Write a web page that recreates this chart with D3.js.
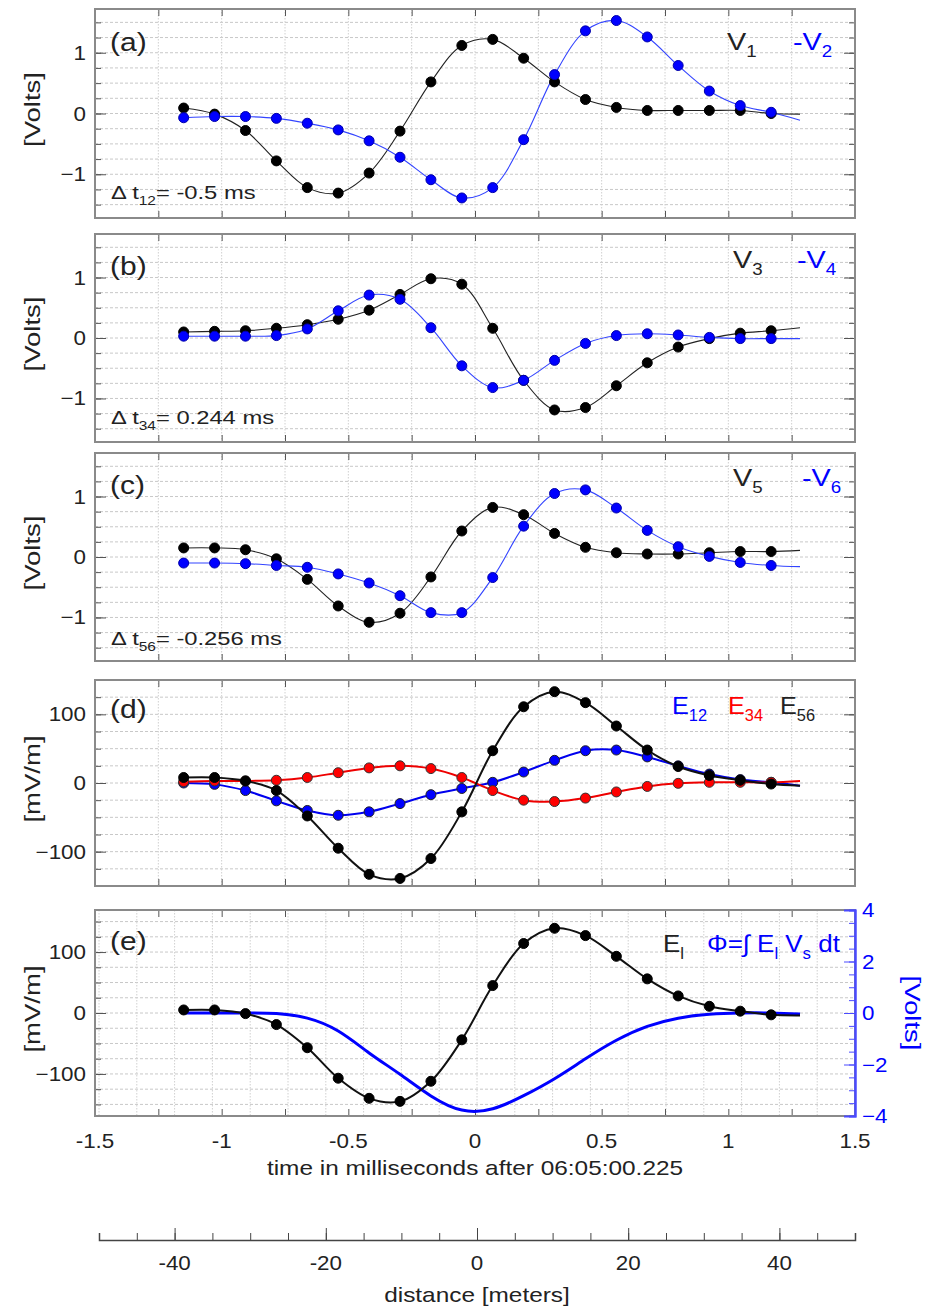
<!DOCTYPE html>
<html>
<head>
<meta charset="utf-8">
<script src="https://cdn.jsdelivr.net/npm/d3@7"></script>
<style>
  body { margin: 0; background: #fff; }
  svg { font-family: "Liberation Sans", Arial, sans-serif; }
</style>
</head>
<body>
<svg id="chart" width="930" height="1310"></svg>
<script>
// sample times (ms) of the dots, and the end of the fitted curves
const sampleTimes = [-1.150, -1.028, -0.906, -0.784, -0.662, -0.540, -0.418, -0.296, -0.174, -0.052,
  0.070, 0.192, 0.314, 0.436, 0.558, 0.680, 0.802, 0.925, 1.047, 1.169];
const curveEnd = 1.283;

// each series: 20 dot values + value at curveEnd
const v1    = [0.09, -0.01, -0.28, -0.78, -1.22, -1.31, -0.98, -0.29, 0.52, 1.12, 1.22, 0.91, 0.52, 0.23, 0.10, 0.05, 0.05, 0.05, 0.05, 0.00, -0.01];
const v2neg = [-0.07, -0.05, -0.05, -0.08, -0.16, -0.27, -0.45, -0.72, -1.09, -1.39, -1.22, -0.43, 0.64, 1.36, 1.53, 1.26, 0.79, 0.37, 0.13, 0.02, -0.11];
const v3    = [0.10, 0.11, 0.12, 0.16, 0.22, 0.31, 0.46, 0.72, 0.98, 0.89, 0.16, -0.70, -1.19, -1.15, -0.79, -0.41, -0.15, -0.01, 0.08, 0.12, 0.17];
const v4neg = [0.03, 0.03, 0.03, 0.04, 0.15, 0.45, 0.71, 0.64, 0.17, -0.46, -0.82, -0.70, -0.37, -0.09, 0.04, 0.07, 0.05, 0.01, -0.01, -0.01, -0.01];
const v5    = [0.15, 0.15, 0.12, -0.03, -0.37, -0.81, -1.08, -0.93, -0.33, 0.43, 0.82, 0.70, 0.39, 0.16, 0.07, 0.05, 0.05, 0.07, 0.09, 0.09, 0.11];
const v6neg = [-0.10, -0.10, -0.11, -0.14, -0.17, -0.28, -0.43, -0.64, -0.92, -0.92, -0.34, 0.51, 1.05, 1.11, 0.81, 0.44, 0.17, 0.01, -0.09, -0.14, -0.16];
const e12   = [0, -2, -11, -26, -40, -47, -42, -30, -17, -8, 1, 16, 33, 47, 48, 38, 25, 13, 5, 1, -4];
const e34   = [2, 3, 3, 4, 8, 15, 22, 25, 21, 8, -11, -25, -27, -22, -13, -5, -0.5, 1, 1, 1, 3];
const e56   = [8, 8, 3, -11, -48, -95, -133, -139, -110, -42, 47, 111, 133, 117, 83, 48, 24, 11, 4, -1.5, -4];
const eL    = [5, 5, -1, -19, -57, -107, -140, -145, -112, -44, 45, 114, 139, 127, 93, 56, 28, 11, 3, -3, -4];
const phi   = [0, 0, 0, -0.02, -0.20, -0.70, -1.55, -2.38, -3.22, -3.77, -3.72, -3.21, -2.55, -1.78, -1.06, -0.52, -0.20, -0.05, 0, 0, -0.04];

// tick labels
const timeLabels = [-1.5, -1, -0.5, 0, 0.5, 1, 1.5];
const voltLabels = [-1, 0, 1];
const fieldLabels = [-100, 0, 100];
const phiLabels = [-4, -2, 0, 2, 4];
const distLabels = [-40, -20, 0, 20, 40];

const svg = d3.select("#chart");
const textColor = "#222";
const frameColor = "#8a8a8a";
const tickColor = "#555";
const blue = "#0000ff";
const minus = d3.format("");   // gives the typographic minus, as on the y axes

const x = d3.scaleLinear().domain([-1.5, 1.5]).range([95, 855]);
const dist = d3.scaleLinear().domain([-50, 50]).range([99, 855]);
const timeMinor = d3.range(-1.5, 1.501, 0.25);

const lineTimes = sampleTimes.concat([curveEnd]);
const toPts = arr => arr.map((v, i) => ({t: lineTimes[i], v: v}));

// text with a slight horizontal stretch, like the source figure
function label(parent, xPos, yPos, parts, o) {
  const size = o.size, sx = o.sx || 1.15;
  const g = parent.append("g")
    .attr("transform", `translate(${xPos},${yPos})` + (o.rotate ? ` rotate(${o.rotate})` : "") + ` scale(${sx},1)`);
  const t = g.append("text").attr("font-size", size).attr("fill", o.color || textColor)
    .attr("text-anchor", o.anchor || "start");
  if (typeof parts === "string") { t.text(parts); return t; }
  let low = false;
  parts.forEach(([s, sub]) => {
    const sp = t.append("tspan").text(s);
    if (sub) {
      sp.attr("font-size", size * 0.65);
      if (!low) { sp.attr("dy", size * 0.3); low = true; }
    } else if (low) { sp.attr("dy", -size * 0.3); low = false; }
  });
  return t;
}

const panels = [
  {top: 9, bottom: 218, domain: [-1.72, 1.72], minor: d3.range(-1.5, 1.501, 0.25), major: voltLabels,
   ylabel: "[Volts]", tag: "(a)", tagY: 51, series: [
     {data: v1, color: "#222", dot: "#000", edge: "#000", width: 1.1},
     {data: v2neg, color: "#3344ff", dot: blue, edge: "#0000aa", width: 1.1}],
   legend: [{x: 727, parts: [["V", 0], ["1", 1]], color: "#222"}, {x: 793, parts: [["-V", 0], ["2", 1]], color: blue}],
   legendY: 50, delta: ["12", "= -0.5 ms"], deltaY: 199},
  {top: 234, bottom: 442, domain: [-1.72, 1.72], minor: d3.range(-1.5, 1.501, 0.25), major: voltLabels,
   ylabel: "[Volts]", tag: "(b)", tagY: 275, series: [
     {data: v3, color: "#222", dot: "#000", edge: "#000", width: 1.1},
     {data: v4neg, color: "#3344ff", dot: blue, edge: "#0000aa", width: 1.1}],
   legend: [{x: 733, parts: [["V", 0], ["3", 1]], color: "#222"}, {x: 797, parts: [["-V", 0], ["4", 1]], color: blue}],
   legendY: 268, delta: ["34", "= 0.244 ms"], deltaY: 424},
  {top: 453, bottom: 661, domain: [-1.72, 1.72], minor: d3.range(-1.5, 1.501, 0.25), major: voltLabels,
   ylabel: "[Volts]", tag: "(c)", tagY: 494, series: [
     {data: v5, color: "#222", dot: "#000", edge: "#000", width: 1.1},
     {data: v6neg, color: "#3344ff", dot: blue, edge: "#0000aa", width: 1.1}],
   legend: [{x: 733, parts: [["V", 0], ["5", 1]], color: "#222"}, {x: 802, parts: [["-V", 0], ["6", 1]], color: blue}],
   legendY: 486, delta: ["56", "= -0.256 ms"], deltaY: 645},
  {top: 680, bottom: 886, domain: [-150, 150], minor: d3.range(-125, 125.1, 25), major: fieldLabels,
   ylabel: "[mV/m]", tag: "(d)", tagY: 718, series: [
     {data: e12, color: "#0000ee", dot: blue, edge: "#222", width: 2},
     {data: e34, color: "#ee0000", dot: "#ff0000", edge: "#333", width: 2},
     {data: e56, color: "#111", dot: "#000", edge: "#000", width: 2}],
   legend: [{x: 672, parts: [["E", 0], ["12", 1]], color: blue}, {x: 728, parts: [["E", 0], ["34", 1]], color: "#ff0000"},
            {x: 780, parts: [["E", 0], ["56", 1]], color: "#222"}],
   legendY: 714, legendSx: 1.05},
  {top: 910, bottom: 1116, domain: [-169, 169], minor: d3.range(-150, 150.1, 25), major: fieldLabels,
   ylabel: "[mV/m]", tag: "(e)", tagY: 950, series: [
     {data: eL, color: "#111", dot: "#000", edge: "#000", width: 2}],
   legend: [{x: 663, parts: [["E", 0], ["l", 1]], color: "#222"},
            {x: 707, parts: [["Φ=∫ E", 0], ["l", 1], [" V", 0], ["s", 1], [" dt", 0]], color: blue}],
   legendY: 952, legendSx: 1.08, phi: true}
];

panels.forEach(p => {
  const g = svg.append("g");
  const y = d3.scaleLinear().domain(p.domain).range([p.bottom, p.top]);
  const left = x.range()[0], right = x.range()[1];

  // horizontal dashed grid
  g.append("g").selectAll("line").data(p.minor).join("line")
    .attr("x1", left).attr("x2", right).attr("y1", d => y(d)).attr("y2", d => y(d))
    .attr("stroke", "#c8c8c8").attr("stroke-width", 1).attr("stroke-dasharray", "3,2");

  // vertical grid: time in (a)-(d), distance in (e)
  const vgrid = p.phi ? d3.range(-50, 50.1, 5).map(d => dist(d)) : timeMinor.map(d => x(d));
  g.append("g").selectAll("line").data(vgrid).join("line")
    .attr("x1", d => d).attr("x2", d => d).attr("y1", p.top).attr("y2", p.bottom)
    .attr("stroke", "#d0d0d0").attr("stroke-width", 1).attr("stroke-dasharray", "1.5,1.5");

  // inward time ticks top and bottom
  [[p.bottom, d3.axisBottom], [p.top, d3.axisTop]].forEach(([yy, ax]) => {
    const a = g.append("g").attr("transform", `translate(0,${yy})`)
      .call(ax(x).tickValues(timeMinor).tickSize(-7).tickFormat(""));
    a.select(".domain").remove();
    a.selectAll("line").attr("stroke", tickColor);
  });

  // inward y ticks, minor and major
  const sides = p.phi ? [[left, d3.axisLeft]] : [[left, d3.axisLeft], [right, d3.axisRight]];
  sides.forEach(([xx, ax]) => {
    [[p.minor, -6], [p.major, -11]].forEach(([vals, len]) => {
      const a = g.append("g").attr("transform", `translate(${xx},0)`)
        .call(ax(y).tickValues(vals).tickSize(len).tickFormat(""));
      a.select(".domain").remove();
      a.selectAll("line").attr("stroke", tickColor);
    });
  });
  g.append("g").selectAll("g").data(p.major).join(enter => enter.append("g"))
    .each(function(d) { label(d3.select(this), left - 9, y(d) + 7, minus(d), {size: 20, sx: 1.12, anchor: "end"}); });

  // frame
  g.append("rect").attr("x", left).attr("y", p.top).attr("width", right - left).attr("height", p.bottom - p.top)
    .attr("fill", "none").attr("stroke", frameColor).attr("stroke-width", 2);

  // potential curve on the right axis
  if (p.phi) {
    const yr = d3.scaleLinear().domain([-4, 4]).range([p.bottom, p.top]);
    g.append("path").datum(toPts(phi))
      .attr("d", d3.line().x(d => x(d.t)).y(d => yr(d.v)).curve(d3.curveNatural))
      .attr("fill", "none").attr("stroke", blue).attr("stroke-width", 3);
    [[d3.range(-4, 4.01, 0.5), -6], [phiLabels, -11]].forEach(([vals, len]) => {
      const a = g.append("g").attr("transform", `translate(${right},0)`)
        .call(d3.axisRight(yr).tickValues(vals).tickSize(len).tickFormat(""));
      a.select(".domain").attr("stroke", "#4a4aff").attr("stroke-width", 2);
      a.selectAll("line").attr("stroke", "#4a4aff");
    });
    g.append("g").selectAll("g").data(phiLabels).join(enter => enter.append("g"))
      .each(function(d) { label(d3.select(this), right + 7, yr(d) + 7, minus(d), {size: 20, sx: 1.12, color: blue}); });
    label(g, 905, (p.top + p.bottom) / 2, "[Volts]", {size: 22, sx: 1.25, rotate: 90, anchor: "middle", color: blue});
  }

  // series lines and dots
  const line = d3.line().x(d => x(d.t)).y(d => y(d.v)).curve(d3.curveCatmullRom.alpha(0.5));
  p.series.forEach(s => {
    g.append("path").datum(toPts(s.data)).attr("d", line)
      .attr("fill", "none").attr("stroke", s.color).attr("stroke-width", s.width);
  });
  p.series.forEach(s => {
    g.append("g").selectAll("circle").data(toPts(s.data.slice(0, sampleTimes.length))).join("circle")
      .attr("cx", d => x(d.t)).attr("cy", d => y(d.v)).attr("r", 5)
      .attr("fill", s.dot).attr("stroke", s.edge).attr("stroke-width", 1);
  });

  // labels
  label(g, 40, (p.top + p.bottom) / 2 - 4, p.ylabel, {size: 22, sx: 1.25, rotate: -90, anchor: "middle"});
  label(g, 110, p.tagY, p.tag, {size: 25, sx: 1.2});
  p.legend.forEach(l => label(g, l.x, p.legendY, l.parts, {size: 24, sx: p.legendSx || 1.2, color: l.color}));
  if (p.delta) label(g, 111, p.deltaY, [["Δ t", 0], [p.delta[0], 1], [p.delta[1], 0]], {size: 19, sx: 1.25});
});

// bottom time axis labels
const tl = svg.append("g");
tl.selectAll("g").data(timeLabels).join(enter => enter.append("g"))
  .each(function(d) { label(d3.select(this), x(d), 1148, String(d), {size: 20, sx: 1.12, anchor: "middle"}); });
label(svg, 475, 1175, "time in milliseconds after 06:05:00.225", {size: 20, sx: 1.22, anchor: "middle"});

// distance axis
const da = svg.append("g").attr("transform", "translate(0,1240)");
const dMinor = da.append("g").call(d3.axisTop(dist).tickValues(d3.range(-50, 50.1, 5)).tickSize(7).tickFormat(""));
dMinor.select(".domain").attr("stroke", "#444").attr("stroke-width", 1.5);
dMinor.selectAll("line").attr("stroke", "#444");
const dMajor = da.append("g").call(d3.axisTop(dist).tickValues(distLabels).tickSize(12).tickFormat(""));
dMajor.select(".domain").remove();
dMajor.selectAll("line").attr("stroke", "#444");
da.append("g").selectAll("g").data(distLabels).join(enter => enter.append("g"))
  .each(function(d) { label(d3.select(this), dist(d), 30, String(d), {size: 20, sx: 1.12, anchor: "middle"}); });
label(svg, 477, 1302, "distance [meters]", {size: 20, sx: 1.22, anchor: "middle"});
</script>
</body>
</html>
